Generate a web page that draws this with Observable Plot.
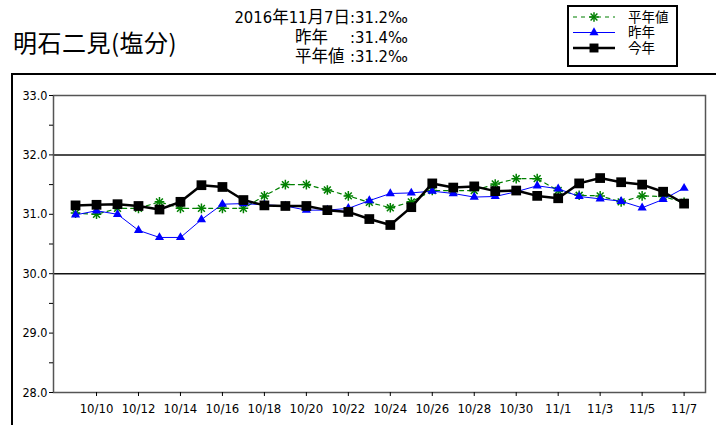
<!DOCTYPE html>
<html>
<head>
<meta charset="utf-8">
<script src="https://cdn.jsdelivr.net/npm/d3@7"></script>
<script src="https://cdn.jsdelivr.net/npm/@observablehq/plot@0.6"></script>
<style>
  html, body { margin: 0; padding: 0; background: #fff; }
  body { width: 716px; height: 425px; position: relative; overflow: hidden; font-family: "Noto Sans CJK JP", sans-serif; color: #000; }
  .abs { position: absolute; white-space: pre; }
  #title { left: 13px; top: 29px; font-size: 24px; line-height: 25px; letter-spacing: 0.5px; }
  .hl { position: absolute; font-family: "DejaVu Sans Condensed", "Noto Sans CJK JP", sans-serif; font-size: 16.5px; line-height: 19.5px; white-space: pre; }
  #frame { position: absolute; left: 11px; top: 73px; width: 720px; height: 370px; border-left: 2px solid #000; border-top: 2px solid #000; }
  #chart { position: absolute; left: 0; top: 73px; }
  #legend { position: absolute; left: 567px; top: 5px; width: 107px; height: 58px; border: 2px solid #000; background: #fff; }
</style>
</head>
<body>
<div id="title" class="abs"></div>
<div id="header"></div>
<div id="frame"></div>
<div id="chart"></div>
<div id="legend"></div>
<script>
// ---- data ----
const dates = ["10/9","10/10","10/11","10/12","10/13","10/14","10/15","10/16","10/17","10/18",
  "10/19","10/20","10/21","10/22","10/23","10/24","10/25","10/26","10/27","10/28",
  "10/29","10/30","10/31","11/1","11/2","11/3","11/4","11/5","11/6","11/7"];
const thisYear = [31.15,31.16,31.17,31.14,31.08,31.21,31.49,31.46,31.24,31.15,
  31.14,31.14,31.07,31.04,30.92,30.82,31.12,31.52,31.45,31.47,
  31.39,31.40,31.31,31.27,31.52,31.61,31.54,31.50,31.38,31.18];
const lastYear = [30.99,31.06,31.00,30.73,30.61,30.61,30.91,31.17,31.18,31.16,
  31.14,31.07,31.07,31.10,31.23,31.35,31.36,31.39,31.35,31.29,
  31.30,31.38,31.48,31.43,31.30,31.26,31.22,31.11,31.25,31.44];
const normal = [31.02,31.00,31.10,31.10,31.21,31.10,31.10,31.10,31.10,31.31,
  31.50,31.50,31.41,31.31,31.20,31.11,31.21,31.40,31.40,31.40,
  31.51,31.60,31.60,31.40,31.32,31.31,31.21,31.31,31.30,31.20];
const xTickDates = ["10/10","10/12","10/14","10/16","10/18","10/20","10/22","10/24","10/26","10/28","10/30","11/1","11/3","11/5","11/7"];
const yTicks = [28,28.5,29,29.5,30,30.5,31,31.5,32,32.5,33];
const yLabelTicks = [28,29,30,31,32,33];
const gridValues = [30,32];
const titleText = "明石二見(塩分)";
const headerLabels = ["2016年11月7日", "昨年", "平年値"];
const headerValues = [":31.2‰", ":31.4‰", ":31.2‰"];
const seriesNames = ["平年値", "昨年", "今年"];
const seriesColors = ["#008000", "#0000ff", "#000000"];

document.getElementById("title").textContent = titleText;

// ---- header ----
const header = document.getElementById("header");
const lineTops = [8.25, 27.75, 47.25];
headerLabels.forEach((lab, i) => {
  const l = document.createElement("div");
  l.className = "hl";
  l.textContent = lab;
  l.style.top = lineTops[i] + "px";
  if (i === 0) { l.style.right = (716 - 350) + "px"; l.style.textAlign = "right"; }
  else { l.style.left = "295px"; }
  header.appendChild(l);
  const v = document.createElement("div");
  v.className = "hl";
  v.textContent = headerValues[i];
  v.style.top = lineTops[i] + "px";
  v.style.left = "350px";
  header.appendChild(v);
});

// ---- rows ----
const mk = (arr) => arr.map((v, i) => ({i, v, d: dates[i]}));
const rowsThis = mk(thisYear), rowsLast = mk(lastYear), rowsNorm = mk(normal);
const idx = d => dates.indexOf(d);

const chart = Plot.plot({
  width: 716,
  height: 352,
  marginLeft: 53,
  marginRight: 11,
  marginTop: 22,
  marginBottom: 33,
  style: {fontFamily: "'DejaVu Sans Condensed', 'DejaVu Sans', sans-serif", fontSize: "12.5px", background: "transparent", color: "#000"},
  x: {domain: [-1.05, 30.02], axis: null},
  y: {domain: [28, 33], axis: null},
  marks: [
    Plot.ruleY(gridValues, {stroke: "#111", strokeWidth: 1.5}),
    Plot.frame({stroke: "#555", strokeWidth: 1.5}),
    Plot.axisY({ticks: yTicks, tickFormat: d => yLabelTicks.includes(d) ? d.toFixed(1) : "", tickSize: 4, tickPadding: 2, stroke: "#000", fill: "#000", fontSize: 12.5, label: null}),
    Plot.axisX({ticks: xTickDates.map(idx), tickFormat: i => dates[i], tickSize: 4, tickPadding: 7, stroke: "#000", fill: "#000", fontSize: 13, label: null}),
    // 平年値
    Plot.line(rowsNorm, {x: "i", y: "v", stroke: seriesColors[0], strokeWidth: 1.2, strokeDasharray: "4,4"}),
    Plot.dot(rowsNorm, {x: "i", y: "v", symbol: "plus", r: 3.2, stroke: seriesColors[0], strokeWidth: 1.5}),
    Plot.dot(rowsNorm, {x: "i", y: "v", symbol: "times", r: 3.2, stroke: seriesColors[0], strokeWidth: 1.5}),
    // 昨年
    Plot.line(rowsLast, {x: "i", y: "v", stroke: seriesColors[1], strokeWidth: 1}),
    Plot.dot(rowsLast, {x: "i", y: "v", symbol: "triangle", r: 3.4, fill: seriesColors[1], stroke: "none"}),
    // 今年
    Plot.line(rowsThis, {x: "i", y: "v", stroke: seriesColors[2], strokeWidth: 2.5}),
    Plot.dot(rowsThis, {x: "i", y: "v", symbol: "square", r: 5.5, fill: seriesColors[2], stroke: "none"})
  ]
});
document.getElementById("chart").appendChild(chart);

// ---- legend ----
const lg = d3.select("#legend").append("svg").attr("width", 107).attr("height", 58).style("display", "block");
const rowY = [10, 25.5, 41];
const dashes = ["4,4", null, null];
const widths = [1.2, 1, 2.5];
const syms = [null, d3.symbolTriangle, d3.symbolSquare];
const symSize = [0, 36, 80];
seriesNames.forEach((name, k) => {
  const y = rowY[k];
  const ln = lg.append("line").attr("x1", 4).attr("x2", 46).attr("y1", y).attr("y2", y)
    .attr("stroke", seriesColors[k]).attr("stroke-width", widths[k]);
  if (dashes[k]) ln.attr("stroke-dasharray", dashes[k]);
  if (k === 0) {
    [d3.symbolPlus, d3.symbolTimes].forEach(s =>
      lg.append("path").attr("d", d3.symbol(s, 32)()).attr("transform", `translate(25,${y})`)
        .attr("fill", "none").attr("stroke", seriesColors[0]).attr("stroke-width", 1.5));
  } else {
    lg.append("path").attr("d", d3.symbol(syms[k], symSize[k])()).attr("transform", `translate(25,${y})`)
      .attr("fill", seriesColors[k]);
  }
  lg.append("text").attr("x", 59).attr("y", y).attr("dy", "0.36em")
    .attr("font-family", "'DejaVu Sans', 'Noto Sans CJK JP'").attr("font-size", 13.5).text(name);
});
</script>
</body>
</html>
